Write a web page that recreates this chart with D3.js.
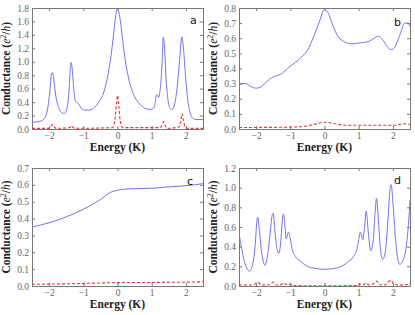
<!DOCTYPE html>
<html><head><meta charset="utf-8">
<script src="https://cdn.jsdelivr.net/npm/d3@7"></script>
<style>body{margin:0;background:#fff}svg{display:block}</style>
</head><body>
<svg id="c" width="415" height="315"></svg>
<script>
// ---- data ----
const xTicks = [-2, -1, 0, 1, 2];
const yTicksA = [0, 0.2, 0.4, 0.6, 0.8, 1.0, 1.2, 1.4, 1.6, 1.8];
const yTicksB = [0, 0.1, 0.2, 0.3, 0.4, 0.5, 0.6, 0.7, 0.8];
const yTicksC = [0, 0.1, 0.2, 0.3, 0.4, 0.5, 0.6, 0.7];
const yTicksD = [0, 0.2, 0.4, 0.6, 0.8, 1.0, 1.2];

const blueA = [[-2.5,0.10],[-2.3,0.11],[-2.15,0.15],[-2.05,0.28],[-1.98,0.55],[-1.93,0.82],[-1.90,0.84],[-1.86,0.72],[-1.80,0.48],[-1.72,0.32],[-1.62,0.24],[-1.55,0.23],[-1.48,0.30],[-1.42,0.55],[-1.38,0.90],[-1.36,0.99],[-1.33,0.92],[-1.28,0.60],[-1.23,0.42],[-1.18,0.39],[-1.13,0.37],[-1.05,0.30],[-0.95,0.28],[-0.85,0.28],[-0.7,0.31],[-0.55,0.40],[-0.4,0.55],[-0.3,0.75],[-0.2,1.05],[-0.12,1.38],[-0.06,1.65],[-0.02,1.77],[0,1.79],[0.03,1.76],[0.08,1.62],[0.15,1.32],[0.25,0.95],[0.35,0.70],[0.5,0.48],[0.65,0.37],[0.8,0.31],[0.95,0.29],[1.05,0.31],[1.1,0.38],[1.14,0.51],[1.17,0.50],[1.2,0.47],[1.25,0.60],[1.3,0.95],[1.34,1.37],[1.37,1.25],[1.42,0.75],[1.48,0.42],[1.55,0.30],[1.6,0.29],[1.66,0.35],[1.74,0.60],[1.82,1.05],[1.88,1.37],[1.92,1.25],[1.98,0.85],[2.05,0.45],[2.12,0.25],[2.2,0.16],[2.3,0.14],[2.5,0.14]];
const redA = [[-2.5,0.01],[-2.0,0.01],[-1.93,0.05],[-1.9,0.07],[-1.86,0.04],[-1.8,0.01],[-1.4,0.02],[-1.36,0.05],[-1.32,0.03],[-1.25,0.01],[-0.15,0.02],[-0.08,0.12],[-0.03,0.38],[0,0.50],[0.03,0.38],[0.08,0.12],[0.15,0.02],[1.25,0.02],[1.3,0.06],[1.35,0.11],[1.39,0.06],[1.45,0.01],[1.8,0.03],[1.85,0.12],[1.89,0.23],[1.93,0.12],[1.98,0.03],[2.05,0.01],[2.5,0.01]];

const blueB = [[-2.5,0.30],[-2.3,0.30],[-2.15,0.28],[-2.0,0.27],[-1.85,0.28],[-1.75,0.30],[-1.6,0.33],[-1.5,0.345],[-1.3,0.36],[-1.0,0.415],[-0.7,0.47],[-0.5,0.52],[-0.3,0.62],[-0.15,0.71],[0,0.79],[0.1,0.77],[0.25,0.68],[0.4,0.61],[0.6,0.575],[0.8,0.563],[1.0,0.568],[1.3,0.58],[1.45,0.60],[1.57,0.613],[1.7,0.59],[1.85,0.54],[1.95,0.525],[2.05,0.54],[2.2,0.62],[2.35,0.70],[2.45,0.70],[2.5,0.68]];
const redB = [[-2.5,0.01],[-1.5,0.011],[-0.7,0.015],[-0.3,0.03],[0,0.045],[0.3,0.035],[0.6,0.025],[1.5,0.025],[2.0,0.025],[2.2,0.03],[2.4,0.035],[2.5,0.03]];

const blueC = [[-2.5,0.35],[-2.0,0.375],[-1.5,0.41],[-1.0,0.455],[-0.5,0.513],[-0.2,0.556],[0,0.568],[0.3,0.576],[1.0,0.58],[1.5,0.588],[2.0,0.595],[2.5,0.607]];
const redC = [[-2.5,0.01],[-1.5,0.013],[-0.5,0.018],[0,0.02],[1.0,0.021],[2.0,0.023],[2.5,0.025]];

const blueD = [[-2.5,0.53],[-2.42,0.38],[-2.35,0.26],[-2.27,0.18],[-2.19,0.15],[-2.1,0.22],[-2.03,0.40],[-1.97,0.68],[-1.95,0.70],[-1.9,0.55],[-1.85,0.37],[-1.79,0.25],[-1.74,0.21],[-1.68,0.28],[-1.6,0.50],[-1.53,0.72],[-1.5,0.74],[-1.45,0.56],[-1.39,0.38],[-1.33,0.33],[-1.28,0.45],[-1.23,0.68],[-1.2,0.73],[-1.16,0.62],[-1.12,0.48],[-1.08,0.53],[-1.05,0.55],[-1.0,0.48],[-0.95,0.38],[-0.85,0.30],[-0.7,0.25],[-0.5,0.20],[-0.3,0.18],[0,0.17],[0.3,0.18],[0.5,0.20],[0.7,0.25],[0.85,0.30],[0.95,0.38],[1.0,0.47],[1.05,0.55],[1.12,0.47],[1.17,0.60],[1.22,0.76],[1.28,0.55],[1.35,0.36],[1.42,0.45],[1.48,0.75],[1.52,0.89],[1.57,0.70],[1.63,0.40],[1.7,0.27],[1.78,0.35],[1.86,0.70],[1.92,1.00],[1.95,1.03],[2.0,0.85],[2.07,0.50],[2.14,0.28],[2.2,0.22],[2.3,0.26],[2.4,0.43],[2.46,0.65],[2.5,0.87]];
const redD = [[-2.5,0.01],[-2.1,0.01],[-1.95,0.04],[-1.85,0.01],[-1.6,0.015],[-1.5,0.04],[-1.4,0.01],[-1.3,0.01],[-1.2,0.03],[-1.12,0.015],[-1.05,0.025],[-0.95,0.005],[0,0.002],[0.95,0.005],[1.05,0.02],[1.12,0.01],[1.22,0.03],[1.3,0.01],[1.42,0.02],[1.52,0.05],[1.6,0.015],[1.75,0.01],[1.9,0.05],[1.95,0.06],[2.02,0.02],[2.2,0.01],[2.4,0.015],[2.5,0.03]];

const panels = [
  {label:"a", x0:32, x1:203, y0:8, y1:129, ymax:1.8, yticks:yTicksA, fmt:".1f", blue:blueA, red:redA, lx:190, ly:24},
  {label:"b", x0:239, x1:410, y0:8, y1:129, ymax:0.8, yticks:yTicksB, fmt:".1f", blue:blueB, red:redB, lx:394, ly:26},
  {label:"c", x0:32, x1:203, y0:168, y1:286, ymax:0.7, yticks:yTicksC, fmt:".1f", blue:blueC, red:redC, lx:187, ly:185},
  {label:"d", x0:239, x1:410, y0:168, y1:286, ymax:1.2, yticks:yTicksD, fmt:".1f", blue:blueD, red:redD, lx:394, ly:184}
];

const svg = d3.select("#c");
const serif = "'Liberation Serif','DejaVu Serif',serif";
const axisCol = "#777";

panels.forEach((p, i) => {
  const x = d3.scaleLinear().domain([-2.5, 2.5]).range([p.x0, p.x1]);
  const y = d3.scaleLinear().domain([0, p.ymax]).range([p.y1, p.y0]);
  const g = svg.append("g");
  const cid = "clip" + i;
  svg.append("clipPath").attr("id", cid).append("rect")
    .attr("x", p.x0).attr("y", p.y0).attr("width", p.x1 - p.x0).attr("height", p.y1 - p.y0);

  const fmt = v => (v < 0 ? "\u2212" : "") + Math.abs(v);
  const ax = [
    d3.axisBottom(x).tickValues(xTicks).tickSize(-3).tickPadding(3).tickFormat(fmt),
    d3.axisTop(x).tickValues(xTicks).tickSize(-3).tickFormat(""),
    d3.axisLeft(y).tickValues(p.yticks).tickSize(-3).tickPadding(3).tickFormat(d3.format(p.fmt)),
    d3.axisRight(y).tickValues(p.yticks).tickSize(-3).tickFormat("")
  ];
  const tr = [`translate(0,${p.y1})`, `translate(0,${p.y0})`, `translate(${p.x0},0)`, `translate(${p.x1},0)`];
  ax.forEach((a, k) => {
    const ag = g.append("g").attr("transform", tr[k]).call(a);
    ag.select(".domain").attr("stroke", axisCol);
    ag.selectAll(".tick line").attr("stroke", axisCol);
    ag.selectAll("text").attr("fill", "#666").style("font-family", serif).style("font-size", "9.5px");
  });

  const line = d3.line().x(d => x(d[0])).y(d => y(d[1])).curve(d3.curveMonotoneX);
  const pg = g.append("g").attr("clip-path", `url(#${cid})`);
  pg.append("path").attr("d", line(p.red)).attr("fill", "none").attr("stroke", "#ee3333")
    .attr("stroke-width", 1.1).attr("stroke-dasharray", "3,2");
  pg.append("path").attr("d", line(p.blue)).attr("fill", "none").attr("stroke", "#7272f2")
    .attr("stroke-width", 1);

  g.append("text").attr("x", p.lx).attr("y", p.ly).text(p.label)
    .style("font-family", "'DejaVu Sans',sans-serif").style("font-size", "11px").attr("fill", "#111");

  g.append("text").attr("x", (p.x0 + p.x1) / 2).attr("y", p.y1 + 21.5).attr("text-anchor", "middle")
    .style("font-family", serif).style("font-size", "11.5px").style("font-weight", "bold").attr("fill", "#222")
    .text("Energy (K)");

  const yl = g.append("text").attr("transform", `translate(${p.x0 - 22},${(p.y0 + p.y1) / 2}) rotate(-90)`)
    .attr("text-anchor", "middle").style("font-family", serif).style("font-size", "11.5px")
    .style("font-weight", "bold").attr("fill", "#222");
  yl.append("tspan").text("Conductance (");
  yl.append("tspan").style("font-style", "italic").style("font-weight", "normal").text("e");
  yl.append("tspan").attr("dy", -4).style("font-size", "8px").style("font-weight", "normal").text("2");
  yl.append("tspan").attr("dy", 4).text("/");
  yl.append("tspan").style("font-style", "italic").style("font-weight", "normal").text("h");
  yl.append("tspan").text(")");
});
</script>
</body></html>
